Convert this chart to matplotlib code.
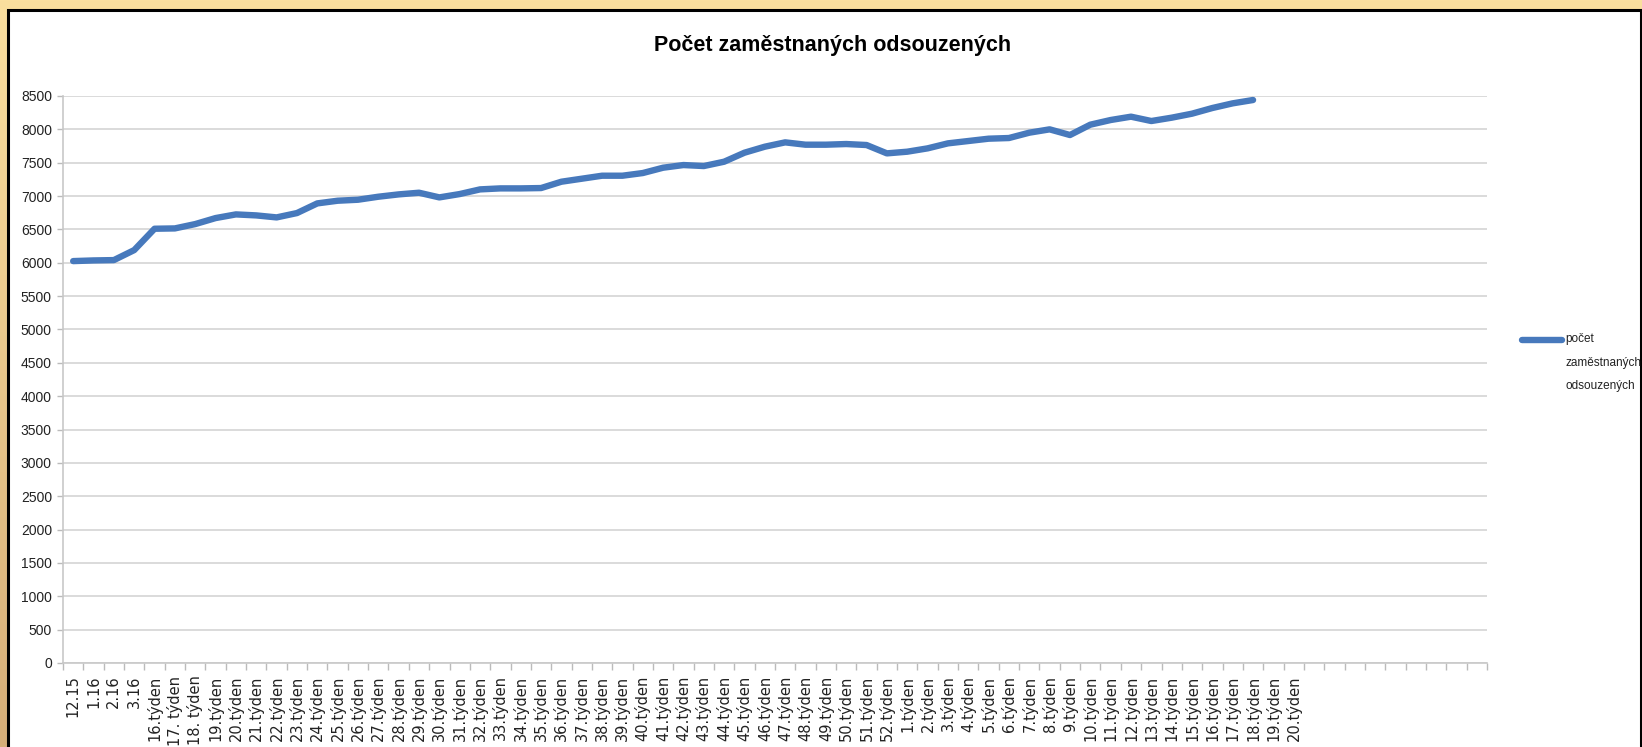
import numpy as np
import matplotlib
matplotlib.use("Agg")
import matplotlib.pyplot as plt
from matplotlib.patches import Rectangle

# categories on the x axis (70 slots, the last ones are empty)
months = ["12.15", "1.16", "2.16", "3.16"]
weeks_2016 = ["16.týden", "17. týden", "18. týden"] + [f"{w}.týden" for w in range(19, 53)]
weeks_2017 = [f"{w}.týden" for w in range(1, 21)]
labels = months + weeks_2016 + weeks_2017
n_slots = 70

# počet zaměstnaných odsouzených
values = [
    6025, 6035, 6040, 6190, 6510, 6515, 6580, 6670, 6725, 6710,
    6680, 6745, 6890, 6930, 6945, 6990, 7025, 7050, 6980, 7030,
    7100, 7115, 7115, 7120, 7215, 7260, 7305, 7305, 7345, 7425,
    7465, 7450, 7515, 7650, 7740, 7805, 7770, 7770, 7780, 7765,
    7640, 7665, 7715, 7790, 7825, 7860, 7870, 7950, 8000, 7915,
    8070, 8140, 8190, 8125, 8175, 8235, 8320, 8390, 8440,
]
series_name = "počet\nzaměstnaných\nodsouzených"
title = "Počet zaměstnaných odsouzených"

W, H = 1642, 747
sans = ["Liberation Sans", "DejaVu Sans"]

fig = plt.figure(figsize=(W / 100, H / 100), dpi=100)

# tan gradient frame behind the chart
bg = fig.add_axes([0, 0, 1, 1], zorder=-10)
top = np.array([0xFA, 0xDF, 0x9E]) / 255
bot = np.array([0xD6, 0xAE, 0x78]) / 255
grad = np.linspace(0, 1, 256)[:, None, None] * (bot - top) + top
bg.imshow(np.repeat(grad, 2, axis=1), aspect="auto", extent=[0, 1, 0, 1])
bg.set_axis_off()
fig.patches.append(Rectangle((8 / W, -0.05), (1633 / W), 1.05 - 10 / H,
                             transform=fig.transFigure, facecolor="white",
                             edgecolor="black", linewidth=2.2, zorder=-5))

ax = fig.add_axes([63 / W, 1 - 663 / H, (1487 - 63) / W, (663 - 96) / H])
ax.set_facecolor("none")

x = np.arange(len(values))
ax.plot(x, values, color="#4779BC", linewidth=4.6, solid_capstyle="round",
        solid_joinstyle="round", label=series_name, zorder=3)

ax.set_xlim(-0.5, n_slots - 0.5)
ax.set_ylim(0, 8500)
ax.set_yticks(np.arange(0, 8501, 500))
ax.grid(axis="y", color="#D4D4D4", linewidth=1.2)
ax.set_axisbelow(True)

ax.set_xticks(np.arange(len(labels)))
ax.set_xticklabels(labels, rotation=90, fontsize=10.5, family="DejaVu Sans", color="#222222")
ax.set_xticks(np.arange(n_slots + 1) - 0.5, minor=True)
ax.tick_params(axis="x", which="major", length=0, pad=9)
ax.tick_params(axis="x", which="minor", length=5, color="#BBBBBB", width=1)
ax.tick_params(axis="y", length=4, color="#BBBBBB", width=1, labelsize=10,
               labelcolor="#222222", pad=4)
for lab in ax.get_yticklabels():
    lab.set_family(sans)

for side in ("top", "right"):
    ax.spines[side].set_visible(False)
for side in ("left", "bottom"):
    ax.spines[side].set_color("#C8C8C8")
    ax.spines[side].set_linewidth(1.2)

fig.text(833 / W, 1 - 45 / H, title, ha="center", va="center",
         fontsize=15.5, fontweight="bold", family=sans, color="black")

leg = ax.legend(loc="upper left", bbox_to_anchor=(1516 / W, 1 - 327 / H),
                bbox_transform=fig.transFigure, frameon=False,
                prop={"family": sans, "size": 8.5}, handlelength=3.4,
                handletextpad=0.3, borderpad=0, labelspacing=0)
for t in leg.get_texts():
    t.set_linespacing(2.3)
    t.set_color("#222222")
# put the legend line next to the first text line, as in the original
h = leg.legend_handles[0]
h.set_ydata(np.asarray(h.get_ydata()) + 16.5)

fig.savefig("out.png", dpi=100)
